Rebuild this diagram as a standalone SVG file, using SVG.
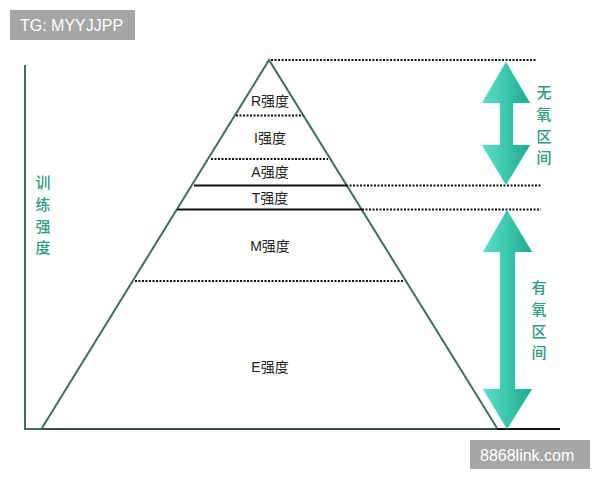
<svg xmlns="http://www.w3.org/2000/svg" width="600" height="480" viewBox="0 0 600 480">
<defs>
<linearGradient id="ag" x1="0" y1="0" x2="1" y2="0">
<stop offset="0" stop-color="#62dcc6"/>
<stop offset="0.5" stop-color="#3cc6ad"/>
<stop offset="1" stop-color="#22a88e"/>
</linearGradient>
<filter id="glow" x="-30%" y="-10%" width="160%" height="120%">
<feGaussianBlur stdDeviation="1.5"/>
</filter>
</defs>
<style>
.lbl{font-family:"Liberation Sans","Noto Sans CJK SC",sans-serif;font-size:14px;fill:#222;text-anchor:middle}
.vt{font-family:"Noto Sans CJK SC",sans-serif;font-size:15px;font-weight:500;fill:#2f9a86;text-anchor:middle}
.dot{stroke:#111;stroke-width:1.8;stroke-dasharray:2 1.5;fill:none}
.solid{stroke:#111;stroke-width:2;fill:none}
.tri{stroke:#3e6e64;stroke-width:2;fill:none}
.wm{font-family:"Liberation Sans",sans-serif;font-size:16px;fill:#fff}
</style>
<rect width="600" height="480" fill="#fff"/>
<g id="watermark-top"><rect x="10" y="10" width="125" height="30" fill="#a6a6a6"/><text class="wm" x="20" y="31">TG: MYYJJPP</text></g>
<g id="axis">
<polyline points="25,65 25,429 42,429" fill="none" stroke="#3e6e64" stroke-width="2"/>
<line x1="42" y1="429" x2="497" y2="429" stroke="#3a4a4a" stroke-width="2"/>
<line x1="497" y1="429" x2="560" y2="429" stroke="#111" stroke-width="2"/>
<text class="vt" x="43" y="188">训</text>
<text class="vt" x="43" y="210">练</text>
<text class="vt" x="43" y="232">强</text>
<text class="vt" x="43" y="253">度</text>
</g>
<g id="pyramid">
<polyline class="tri" points="42,428 269,60 497,428"/>
</g>
<g id="connectors">
<line class="dot" x1="271" y1="60" x2="536" y2="60"/>
<line class="dot" x1="236" y1="115.5" x2="303" y2="115.5"/>
<line class="dot" x1="211" y1="159" x2="328" y2="159"/>
<line class="solid" x1="194" y1="185.5" x2="346" y2="185.5"/>
<line class="dot" x1="346" y1="185.5" x2="542" y2="185.5"/>
<line class="solid" x1="177" y1="209.5" x2="362" y2="209.5"/>
<line class="dot" x1="362" y1="209.5" x2="541" y2="209.5"/>
<line class="dot" x1="135" y1="281" x2="404" y2="281"/>
</g>
<g id="labels">
<text class="lbl" x="270" y="106">R强度</text>
<text class="lbl" x="270" y="143">I强度</text>
<text class="lbl" x="270" y="177">A强度</text>
<text class="lbl" x="270" y="203">T强度</text>
<text class="lbl" x="270" y="251">M强度</text>
<text class="lbl" x="270" y="372">E强度</text>
</g>
<g id="anaerobic">
<polygon points="506,62 530,103 513,103 513,145 530,145 506,185 482,145 500,145 500,103 482,103" fill="#7fe6d4" opacity="0.5" filter="url(#glow)"/>
<polygon points="506,62 530,103 513,103 513,145 530,145 506,185 482,145 500,145 500,103 482,103" fill="url(#ag)"/>
<text class="vt" x="544" y="98">无</text>
<text class="vt" x="544" y="120">氧</text>
<text class="vt" x="544" y="142">区</text>
<text class="vt" x="544" y="163">间</text>
</g>
<g id="aerobic">
<polygon points="507,210 532,252 515,252 515,389 532,389 507,429 483,389 500,389 500,252 483,252" fill="#7fe6d4" opacity="0.5" filter="url(#glow)"/>
<polygon points="507,210 532,252 515,252 515,389 532,389 507,429 483,389 500,389 500,252 483,252" fill="url(#ag)"/>
<text class="vt" x="539" y="293">有</text>
<text class="vt" x="539" y="315">氧</text>
<text class="vt" x="539" y="337">区</text>
<text class="vt" x="539" y="358">间</text>
</g>
<g id="watermark-bottom"><rect x="470" y="440" width="120" height="29" fill="#a6a6a6"/><text class="wm" x="480" y="461">8868link.com</text></g>
</svg>
